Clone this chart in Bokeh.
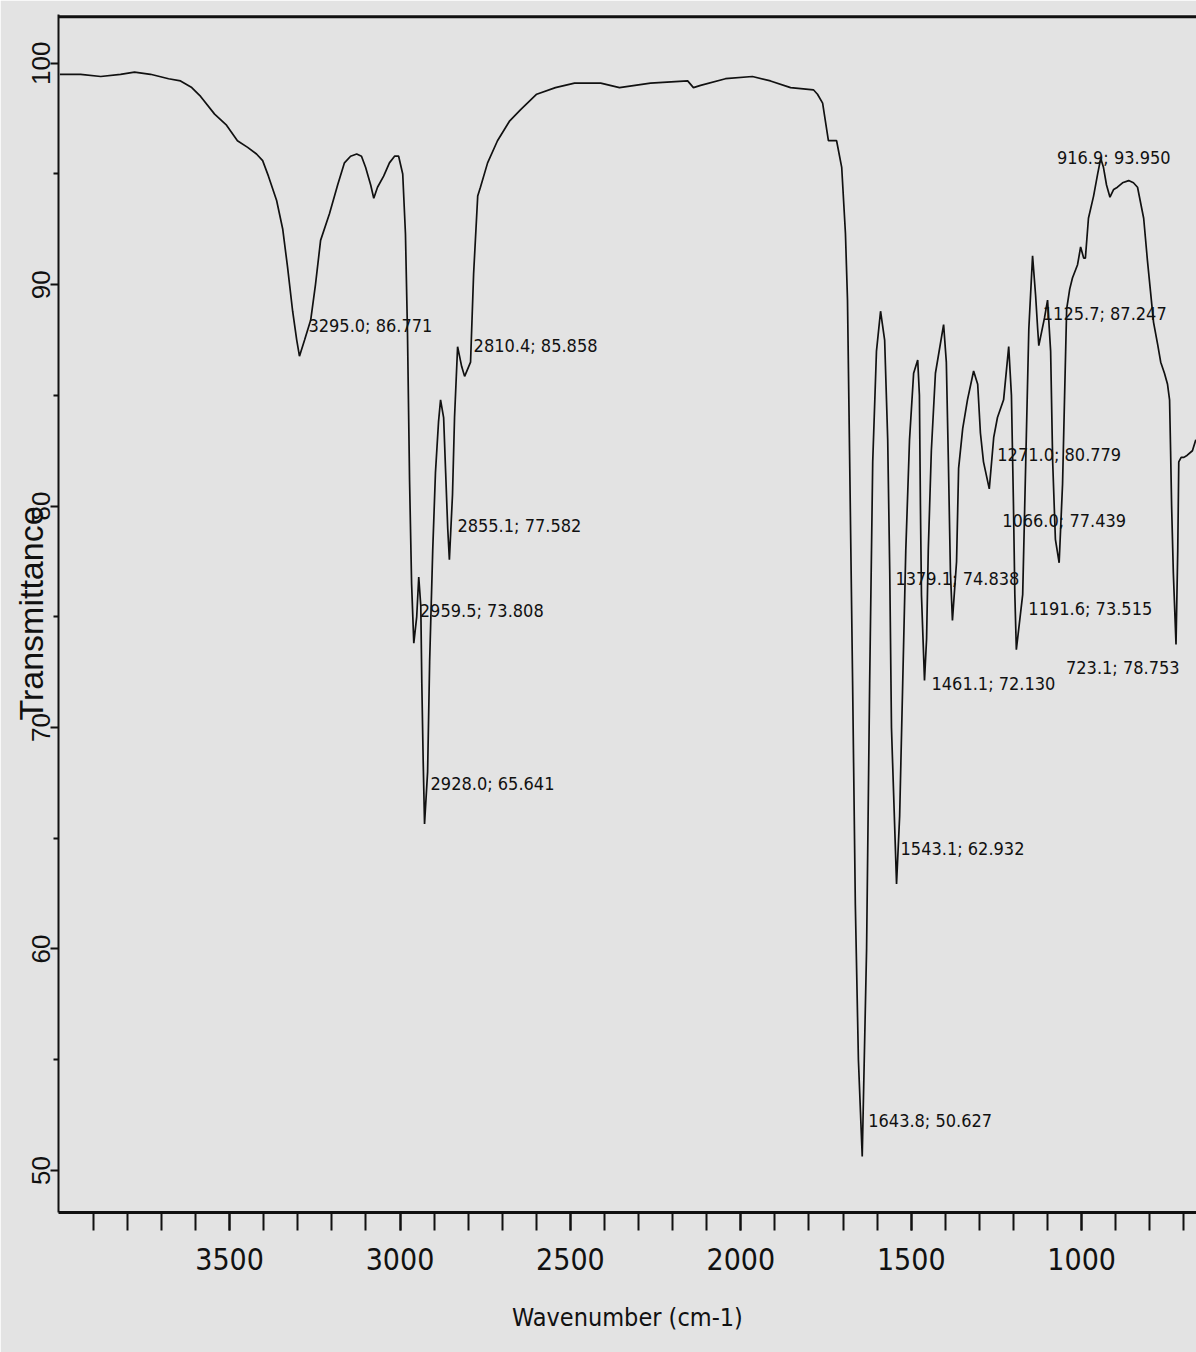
from bokeh.plotting import figure
from bokeh.models import Range1d, FixedTicker, Span, ColumnDataSource
from bokeh.core.properties import value
from bokeh.embed import file_html
from bokeh.resources import INLINE

# ---------------- data ----------------
wavenumber = [
    3998, 3937, 3878, 3820, 3779, 3732, 3679, 3644, 3611, 3585, 3544, 3509, 3477, 3447,
    3421, 3403, 3386, 3362, 3344, 3330, 3315, 3303, 3295.0, 3280, 3262, 3248, 3233, 3207,
    3183, 3163, 3145, 3127, 3113, 3101, 3086, 3077, 3066, 3048, 3031, 3016, 3004, 2992,
    2984, 2978, 2972, 2966, 2959.5, 2951, 2945, 2939, 2936, 2932, 2928.0, 2919, 2913, 2904,
    2896, 2887, 2881, 2872, 2866, 2860, 2855.1, 2846, 2840, 2831, 2819, 2810.4, 2793, 2784,
    2772, 2764, 2743, 2714, 2678, 2646, 2599, 2544, 2488, 2411, 2356, 2265, 2156, 2139,
    2118, 2045, 1966, 1913, 1854, 1787, 1775, 1760, 1743, 1719, 1704, 1693, 1687, 1681,
    1672, 1664, 1655, 1643.8, 1631, 1622, 1613, 1602, 1590, 1578, 1569, 1563, 1558, 1543.1,
    1534, 1525, 1516, 1505, 1493, 1481, 1476, 1473, 1470, 1461.1, 1455, 1450, 1441, 1429,
    1405, 1397, 1391, 1385, 1379.1, 1367, 1361, 1349, 1335, 1317, 1305, 1297, 1288, 1271.0,
    1258, 1247, 1229, 1214, 1206, 1200, 1196, 1191.6, 1173, 1164, 1155, 1144, 1135, 1129,
    1125.7, 1109, 1100, 1091, 1085, 1077, 1066.0, 1056, 1050, 1044, 1035, 1027, 1012, 1003,
    994, 989, 980, 965, 953, 944, 936, 927, 916.9, 906, 895, 880, 862, 848, 836, 818, 807,
    798, 789, 777, 768, 757, 748, 742, 739, 736, 731, 723.1, 718, 715, 708, 700, 690, 675, 665,
]
transmittance = [
    99.5, 99.5, 99.4, 99.5, 99.6, 99.5, 99.3, 99.2, 98.9, 98.5, 97.7, 97.2, 96.5, 96.2,
    95.9, 95.6, 94.9, 93.8, 92.5, 90.8, 88.8, 87.5, 86.771, 87.5, 88.4, 90.0, 92.0, 93.2,
    94.5, 95.5, 95.8, 95.9, 95.8, 95.3, 94.5, 93.9, 94.4, 94.9, 95.5, 95.8, 95.8, 95.0,
    92.3, 87.8, 81.2, 76.5, 73.808, 75.0, 76.8, 75.5, 72.0, 68.5, 65.641, 68.0, 73.0, 78.0,
    81.5, 83.8, 84.8, 84.0, 81.5, 79.0, 77.582, 80.5, 84.0, 87.2, 86.3, 85.858, 86.5, 90.5,
    94.0, 94.4, 95.5, 96.5, 97.4, 97.9, 98.6, 98.9, 99.1, 99.1, 98.9, 99.1, 99.2, 98.9,
    99.0, 99.3, 99.4, 99.2, 98.9, 98.8, 98.6, 98.2, 96.5, 96.5, 95.3, 92.3, 89.3, 82.5,
    72.0, 62.0, 55.0, 50.627, 60.0, 72.0, 82.0, 87.0, 88.8, 87.5, 83.0, 77.0, 70.0, 62.932,
    66.0, 72.0, 78.0, 83.0, 86.0, 86.6, 85.0, 80.0, 76.0, 72.130, 74.0, 78.0, 82.5, 86.0,
    88.2, 86.5, 82.0, 77.0, 74.838, 77.5, 81.7, 83.5, 84.8, 86.1, 85.5, 83.3, 82.0, 80.779,
    83.1, 84.0, 84.8, 87.2, 85.0, 80.0, 76.0, 73.515, 76.0, 82.0, 88.0, 91.3, 89.5, 88.0,
    87.247, 88.5, 89.3, 87.0, 82.0, 78.5, 77.439, 81.0, 85.0, 88.9, 89.8, 90.3, 90.9, 91.7,
    91.2, 91.2, 93.0, 94.0, 95.0, 95.7, 95.3, 94.5, 93.950, 94.3, 94.4, 94.6, 94.7, 94.6,
    94.4, 93.0, 91.1, 89.7, 88.3, 87.3, 86.5, 86.0, 85.5, 84.8, 82.5, 80.0, 77.0, 73.75,
    78.0, 82.0, 82.2, 82.2, 82.3, 82.5, 83.0,
]

peak_wn = [3295.0, 2810.4, 2855.1, 2959.5, 2928.0, 1643.8, 1543.1, 1461.1, 1379.1,
           1271.0, 1191.6, 1125.7, 1066.0, 916.9, 723.1]
peak_t = [86.771, 85.858, 77.582, 73.808, 65.641, 50.627, 62.932, 72.130, 74.838,
          80.779, 73.515, 87.247, 77.439, 93.950, 73.75]
peak_text = ["3295.0; 86.771", "2810.4; 85.858", "2855.1; 77.582", "2959.5; 73.808",
             "2928.0; 65.641", "1643.8; 50.627", "1543.1; 62.932", "1461.1; 72.130",
             "1379.1; 74.838", "1271.0; 80.779", "1191.6; 73.515", "1125.7; 87.247",
             "1066.0; 77.439", "916.9; 93.950", "723.1; 78.753"]

x_major = [3500, 3000, 2500, 2000, 1500, 1000]
x_minor = list(range(3900, 600, -100))
y_major = [50, 60, 70, 80, 90, 100]
y_minor = [55, 65, 75, 85, 95]

# label placement (screen pixels relative to each marked minimum)
lab_dx = [9, 9, 8, 6, 6, 6, 4, 7, -57, 8, 12, 4, -57, -53, -110]
lab_dy = [-31, -31, -34, -33, -41, -36, -36, 3, -42, -34, -41, -32, -42, -40, 23]

BG = "#e3e3e3"
INK = "#111111"
COND = "DejaVu Sans Condensed, DejaVu Sans, sans-serif"
SANS = "Liberation Sans"

p = figure(width=1196, height=1352, output_backend="svg", toolbar_location=None,
           x_range=Range1d(4002, 663), y_range=Range1d(48.1, 102.2),
           min_border_left=58, min_border_right=0, min_border_top=14, min_border_bottom=140)
p.background_fill_color = BG
p.border_fill_color = BG
p.outline_line_color = None
p.grid.visible = False

p.line(wavenumber, transmittance, line_color=INK, line_width=1.7)

src = ColumnDataSource(dict(x=peak_wn, y=peak_t, t=peak_text, dx=lab_dx, dy=lab_dy))
p.text(x="x", y="y", text="t", x_offset="dx", y_offset="dy", source=src,
       text_font=value(COND), text_font_size="18px", text_color=INK,
       text_align="left", text_baseline="middle")

# x axis
xa = p.xaxis[0]
xa.ticker = FixedTicker(ticks=x_major, minor_ticks=x_minor)
xa.axis_line_width = 3
xa.axis_line_color = INK
xa.major_tick_in = 0
xa.major_tick_out = 18
xa.minor_tick_in = 0
xa.minor_tick_out = 18
xa.major_tick_line_width = 2
xa.minor_tick_line_width = 2
xa.major_tick_line_color = INK
xa.minor_tick_line_color = INK
xa.major_label_standoff = 17
xa.major_label_text_font = COND
xa.major_label_text_font_size = "30px"
xa.major_label_text_color = INK
xa.axis_label = "Wavenumber (cm-1)"
xa.axis_label_text_font = COND
xa.axis_label_text_font_style = "normal"
xa.axis_label_text_font_size = "25px"
xa.axis_label_text_color = INK
xa.axis_label_standoff = 30

# y axis
ya = p.yaxis[0]
ya.ticker = FixedTicker(ticks=y_major, minor_ticks=y_minor)
ya.axis_line_width = 2
ya.axis_line_color = INK
ya.major_tick_in = 0
ya.major_tick_out = 8
ya.minor_tick_in = 0
ya.minor_tick_out = 5
ya.major_tick_line_width = 2
ya.minor_tick_line_width = 2
ya.major_tick_line_color = INK
ya.minor_tick_line_color = INK
ya.major_label_orientation = "vertical"
ya.major_label_standoff = 0
ya.major_label_text_font = SANS
ya.major_label_text_font_size = "26px"
ya.major_label_text_color = INK
ya.axis_label = "Transmittance"
ya.axis_label_text_font = SANS
ya.axis_label_text_font_style = "normal"
ya.axis_label_text_font_size = "34px"
ya.axis_label_text_color = INK
ya.axis_label_standoff = -20

p.add_layout(Span(location=102.1, dimension="width", line_color=INK, line_width=3))

open("out.html", "w").write(file_html(p, INLINE))
